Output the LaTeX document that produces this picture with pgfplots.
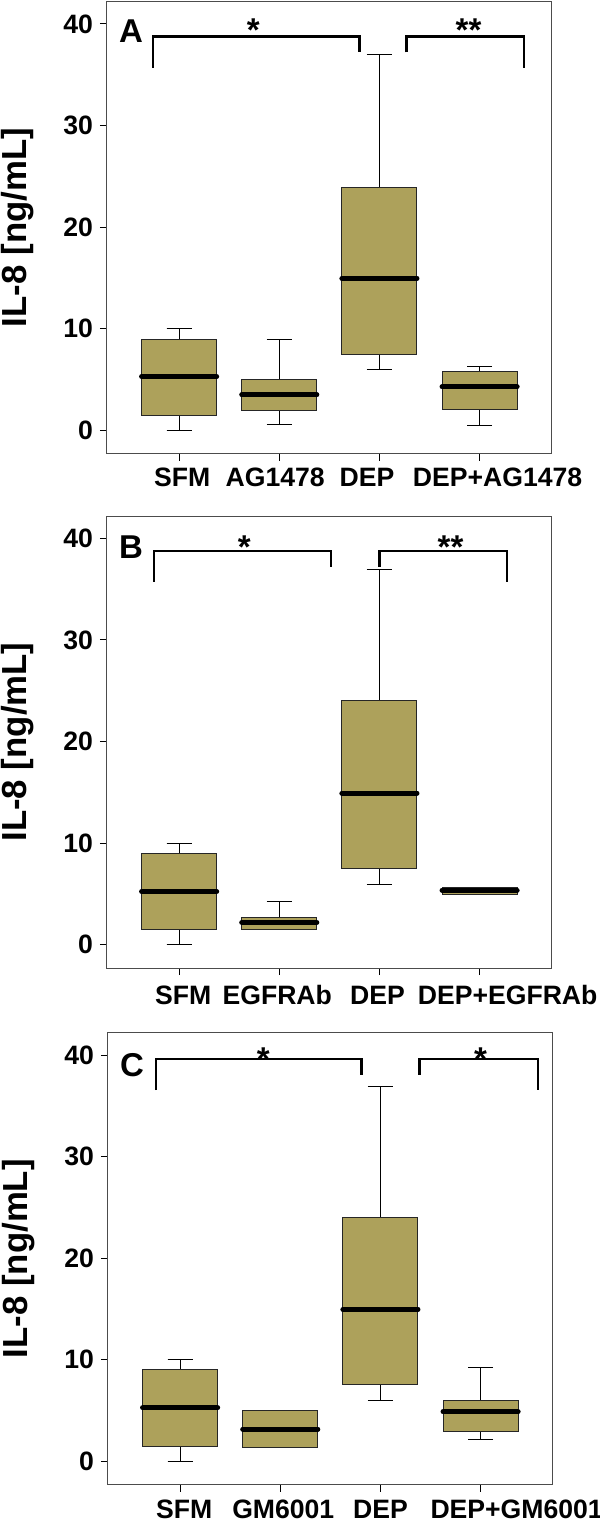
\documentclass[border=0pt]{standalone}
\usepackage{fontspec}
\setmainfont{Liberation Sans}
\usepackage{pgfplots}
\pgfplotsset{compat=1.18}
\usepgfplotslibrary{statistics}
\definecolor{boxfill}{RGB}{173,161,91}

\pgfplotsset{
  ilpanel/.style={
    scale only axis, width=222.35pt, height=226pt,
    xmin=0.28, xmax=4.72, ymin=-2.3, ymax=42.2,
    xtick={1,2,3,4}, xticklabels={}, ytick={0,10,20,30,40},
    tick align=outside, tick pos=left, major tick length=3.5pt,
    axis line style={black!70, line width=0.5pt},
    every tick/.style={black, line width=0.5pt},
    tick label style={font=\bfseries\fontsize{13.3}{14}\selectfont},
    /pgf/number format/assume math mode=true,
    ylabel={IL-8 [ng/mL]},
    every axis y label/.style={at={(axis description cs:-0.2,0.5)}, rotate=90,
      anchor=center, font=\bfseries\fontsize{17.4}{18}\selectfont},
    clip=false,
    boxplot/draw direction=y,
    boxplot/box extend=0.75,
    boxplot/whisker extend=0.25,
    boxplot/every median/.style={line width=2.5pt, line cap=round, black},
    boxplot/every whisker/.style={line width=0.5pt, black},
  },
  ilbox/.style={fill=boxfill, draw=black!85, line width=0.5pt},
}
\tikzset{
  xlab/.style={anchor=base, font=\bfseries\fontsize{13.3}{14}\selectfont},
  tag/.style={anchor=base, font=\bfseries\fontsize{16.5}{17}\selectfont},
  brk/.style={line width=1.1pt, black},
}

\begin{document}
\begin{tikzpicture}

% ---------------- A ----------------
\begin{axis}[ilpanel, at={(53.5pt,-0.75pt)}, anchor=north west]
\addplot[ilbox, boxplot prepared={draw position=1, lower whisker=0, lower quartile=1.47,
  median=5.27, upper quartile=8.9, upper whisker=10}] coordinates {};
\addplot[ilbox, boxplot prepared={draw position=2, lower whisker=0.59, lower quartile=1.97,
  median=3.47, upper quartile=4.94, upper whisker=8.9}] coordinates {};
\addplot[ilbox, boxplot prepared={draw position=3, lower whisker=5.93, lower quartile=7.43,
  median=14.94, upper quartile=23.9, upper whisker=36.95}] coordinates {};
\addplot[ilbox, boxplot prepared={draw position=4, lower whisker=0.49, lower quartile=2.06,
  median=4.26, upper quartile=5.76, upper whisker=6.25}] coordinates {};
\draw[brk] (axis cs:0.74,35.7) -- (axis cs:0.74,38.75) -- (axis cs:2.80,38.75) -- (axis cs:2.80,37.2);
\draw[brk] (axis cs:3.27,37.2) -- (axis cs:3.27,38.75) -- (axis cs:4.44,38.75) -- (axis cs:4.44,35.7);
\node[tag] at (axis cs:0.52,38.2) {A};
\node[tag] at (axis cs:1.74,38.3) {*};
\node[tag] at (axis cs:3.89,38.3) {**};
\node[xlab] at (axis cs:1.03,-5.59) {SFM};
\node[xlab] at (axis cs:1.96,-5.59) {AG1478};
\node[xlab] at (axis cs:2.875,-5.59) {DEP};
\node[xlab] at (axis cs:4.18,-5.59) {DEP+AG1478};
\end{axis}

% ---------------- B ----------------
\begin{axis}[ilpanel, at={(53.5pt,-258pt)}, anchor=north west]
\addplot[ilbox, boxplot prepared={draw position=1, lower whisker=0, lower quartile=1.47,
  median=5.24, upper quartile=8.97, upper whisker=10}] coordinates {};
\addplot[ilbox, boxplot prepared={draw position=2, lower whisker=1.47, lower quartile=1.47,
  median=2.19, upper quartile=2.68, upper whisker=4.22}] coordinates {};
\addplot[ilbox, boxplot prepared={draw position=3, lower whisker=5.93, lower quartile=7.54,
  median=14.93, upper quartile=24.0, upper whisker=36.96}] coordinates {};
\addplot[ilbox, boxplot prepared={draw position=4, lower whisker=4.94, lower quartile=4.94,
  median=5.37, upper quartile=5.63, upper whisker=5.63}] coordinates {};
\draw[brk] (axis cs:0.75,35.75) -- (axis cs:0.75,38.76) -- (axis cs:2.515,38.76) -- (axis cs:2.515,37.2);
\draw[brk] (axis cs:3.0,37.2) -- (axis cs:3.0,38.76) -- (axis cs:4.27,38.76) -- (axis cs:4.27,35.75);
\node[tag] at (axis cs:0.52,38.0) {B};
\node[tag] at (axis cs:1.65,38.0) {*};
\node[tag] at (axis cs:3.71,38.0) {**};
\node[xlab] at (axis cs:1.04,-5.93) {SFM};
\node[xlab] at (axis cs:1.98,-5.93) {EGFRAb};
\node[xlab] at (axis cs:2.98,-5.93) {DEP};
\node[xlab] at (axis cs:4.28,-5.93) {DEP+EGFRAb};
\end{axis}

% ---------------- C ----------------
\begin{axis}[ilpanel, at={(54pt,-516.35pt)}, anchor=north west]
\addplot[ilbox, boxplot prepared={draw position=1, lower whisker=0, lower quartile=1.47,
  median=5.27, upper quartile=9.03, upper whisker=10}] coordinates {};
\addplot[ilbox, boxplot prepared={draw position=2, lower whisker=1.37, lower quartile=1.37,
  median=3.18, upper quartile=4.98, upper whisker=4.98}] coordinates {};
\addplot[ilbox, boxplot prepared={draw position=3, lower whisker=5.96, lower quartile=7.53,
  median=14.96, upper quartile=24.0, upper whisker=36.95}] coordinates {};
\addplot[ilbox, boxplot prepared={draw position=4, lower whisker=2.19, lower quartile=2.98,
  median=4.88, upper quartile=5.96, upper whisker=9.2}] coordinates {};
\draw[brk] (axis cs:0.76,36.56) -- (axis cs:0.76,39.64) -- (axis cs:2.81,39.64) -- (axis cs:2.81,38.07);
\draw[brk] (axis cs:3.39,38.07) -- (axis cs:3.39,39.64) -- (axis cs:4.57,39.64) -- (axis cs:4.57,36.56);
\node[tag] at (axis cs:0.52,37.9) {C};
\node[tag] at (axis cs:1.83,38.5) {*};
\node[tag] at (axis cs:4.0,38.5) {*};
\node[xlab] at (axis cs:1.04,-5.6) {SFM};
\node[xlab] at (axis cs:2.03,-5.6) {GM6001};
\node[xlab] at (axis cs:3.0,-5.6) {DEP};
\node[xlab] at (axis cs:4.36,-5.6) {DEP+GM6001};
\end{axis}

\pgfresetboundingbox
\path (0,0) rectangle (300pt,-761.5pt);
\end{tikzpicture}
\end{document}
